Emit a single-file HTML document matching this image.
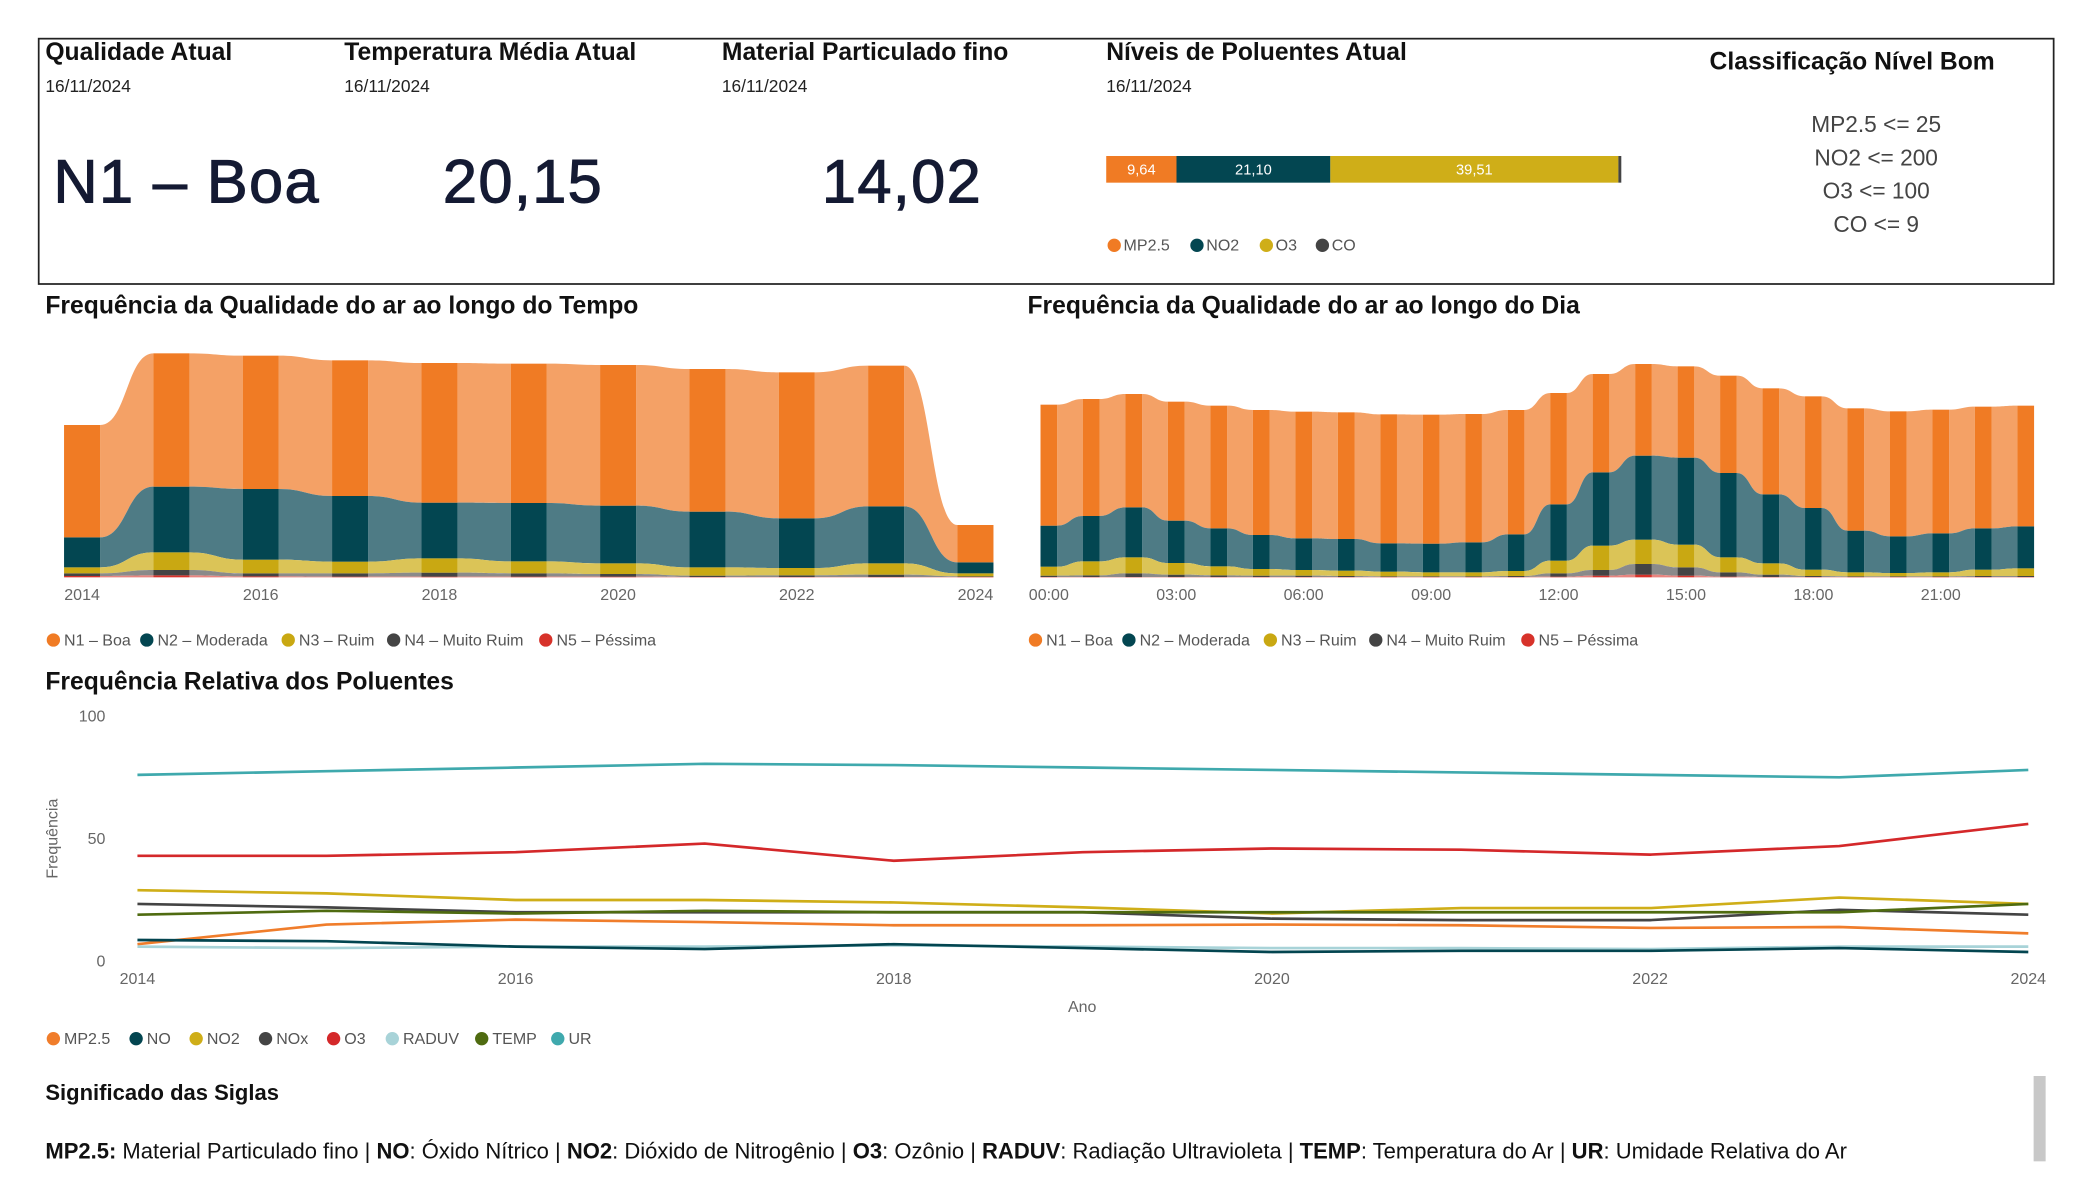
<!DOCTYPE html>
<html><head><meta charset="utf-8"><style>
html,body{margin:0;padding:0;background:#fff;}
svg{display:block;font-family:"Liberation Sans",Arial,sans-serif;}
.h{font-weight:bold;font-size:18.5px;fill:#111;}
.d{font-size:13px;fill:#222;}
.big{font-size:46px;fill:#141a33;stroke:#141a33;stroke-width:0.8;letter-spacing:1px;}
.ax{font-size:12px;fill:#666;}
.lg{font-size:12px;fill:#555;}
.cl{font-size:17px;fill:#444;}
</style></head><body>
<svg id="root" width="2075" height="1200" viewBox="0 0 1555 900" preserveAspectRatio="none">
<rect x="29" y="29" width="1510" height="184" fill="none" stroke="#222" stroke-width="1.3"/>
<g>
<text x="34" y="45" class="h">Qualidade Atual</text><text x="34" y="69" class="d">16/11/2024</text>
<text x="40" y="152" class="big">N1 – Boa</text></g>
<g>
<text x="258" y="45" class="h">Temperatura Média Atual</text><text x="258" y="69" class="d">16/11/2024</text>
<text x="452" y="152" class="big" text-anchor="end">20,15</text></g>
<g>
<text x="541" y="45" class="h">Material Particulado fino</text><text x="541" y="69" class="d">16/11/2024</text>
<text x="736" y="152" class="big" text-anchor="end">14,02</text></g>
<g>
<text x="829" y="45" class="h">Níveis de Poluentes Atual</text><text x="829" y="69" class="d">16/11/2024</text>
<g id="pbar"></g><g id="plg"></g></g>
<g>
<text x="1388" y="52" class="h" text-anchor="middle">Classificação Nível Bom</text>
<text x="1406" y="99" class="cl" text-anchor="middle">MP2.5 &lt;= 25</text>
<text x="1406" y="124" class="cl" text-anchor="middle">NO2 &lt;= 200</text>
<text x="1406" y="149" class="cl" text-anchor="middle">O3 &lt;= 100</text>
<text x="1406" y="174" class="cl" text-anchor="middle">CO &lt;= 9</text></g>
<text x="34" y="235" class="h">Frequência da Qualidade do ar ao longo do Tempo</text>
<text x="770" y="235" class="h">Frequência da Qualidade do ar ao longo do Dia</text>
<g id="c1"></g>
<g id="c2"></g>
<text x="34" y="517" class="h">Frequência Relativa dos Poluentes</text>
<g id="c3"></g>
<text x="34" y="825" class="h" style="font-size:16.5px">Significado das Siglas</text>
<text x="34" y="869" style="font-size:16.5px;fill:#111"><tspan font-weight="bold">MP2.5:</tspan> Material Particulado fino | <tspan font-weight="bold">NO</tspan>: Óxido Nítrico | <tspan font-weight="bold">NO2</tspan>: Dióxido de Nitrogênio | <tspan font-weight="bold">O3</tspan>: Ozônio | <tspan font-weight="bold">RADUV</tspan>: Radiação Ultravioleta | <tspan font-weight="bold">TEMP</tspan>: Temperatura do Ar | <tspan font-weight="bold">UR</tspan>: Umidade Relativa do Ar</text>
<rect x="1524" y="807" width="9" height="64" fill="#c8c8c8"/>
</svg>
<script>
// Current pollutant levels
const polNames=["MP2.5","NO2","O3","CO"];
const polValues=[9.64,21.10,39.51,0.4];
const polLabels=["9,64","21,10","39,51",""];
// Yearly ribbon chart
const years=["2014","2015","2016","2017","2018","2019","2020","2021","2022","2023","2024"];
const yN1=[337,400,400,407,419,418,422,428,438,422,112];
const yN2=[90,197,212,197,167,175,173,167,149,171,33];
const yN3=[18,53,41,35,43,36,32,25,22,34,9];
const yN4=[8,16,9,10,12,10,8,4,5,7,2];
const yN5=[4,6,3,2,2,2,2,1,1,1,1];
// Hourly ribbon chart
const hours=["00:00","01:00","02:00","03:00","04:00","05:00","06:00","07:00","08:00","09:00","10:00","11:00","12:00","13:00","14:00","15:00","16:00","17:00","18:00","19:00","20:00","21:00","22:00","23:00"];
const hN1=[363,351,340,357,368,375,380,380,387,387,385,373,334,295,275,274,292,318,335,367,375,371,365,362];
const hN2=[123,136,150,127,114,102,95,95,85,86,90,110,169,220,252,261,253,207,185,125,110,117,124,126];
const hN3=[27,42,48,35,27,20,17,16,14,12,12,15,38,73,73,68,45,34,19,12,10,12,19,23];
const hN4=[4,5,11,7,5,4,4,3,2,2,2,3,10,17,32,25,13,7,3,2,2,2,3,3];
const hN5=[1,1,1,1,1,1,1,1,1,1,1,1,2,5,8,5,2,1,1,1,1,1,1,1];
const levelNames=["N1 – Boa","N2 – Moderada","N3 – Ruim","N4 – Muito Ruim","N5 – Péssima"];
// Pollutant line chart
const lineYears=[2014,2015,2016,2017,2018,2019,2020,2021,2022,2023,2024];
const xTicks=[2014,2016,2018,2020,2022,2024];
const yTicks=[0,50,100];
const sMP25=[7,15,17,16,14.7,14.7,15,14.7,13.6,14,11.4];
const sNO=[8.7,8.2,6,5,7,5.4,3.8,4.3,4.3,5.4,3.8];
const sNO2=[29,27.7,25,25,24,22,19.5,21.7,21.7,26,23.4];
const sNOx=[23.4,22,20,20,20,20,17.4,16.8,16.8,21,19];
const sO3=[43,43,44.5,48,41,44.5,46,45.5,43.5,47,56];
const sRADUV=[6,5.4,6,6,6.5,6,5.4,5.4,5,6,6];
const sTEMP=[19,20.6,19.5,20.6,20,20,20,20,20,20,23.4];
const sUR=[76,77.5,79,80.5,80,79,78,77,76,75,78];

const NS="http://www.w3.org/2000/svg";
function mk(tag,attrs,parent){const e=document.createElementNS(NS,tag);for(const k in attrs)e.setAttribute(k,attrs[k]);parent.appendChild(e);return e;}
function txt(s,attrs,parent){const e=mk("text",attrs,parent);e.textContent=s;return e;}

(function(){
 const g=document.getElementById("pbar"),lg=document.getElementById("plg");
 const cols=["#f07b24","#034651","#cfae18","#444"];
 const total=polValues.reduce((a,b)=>a+b,0),W=386;let x=829;
 polValues.forEach((v,i)=>{const w=v/total*W;
  const r=mk("rect",{x:x,y:117,width:w,height:20,fill:cols[i]},g);
  
  
  if(polLabels[i]){const t=txt(polLabels[i],{x:x+w/2,y:131,"text-anchor":"middle","font-size":"11",fill:"#fff"},g);
   
   }
  x+=w;});
 const lx=[835,897,949,991];
 polNames.forEach((n,i)=>{const c=mk("circle",{cx:lx[i],cy:184,r:5,fill:cols[i]},lg);
  
  
  const t=txt(n,{x:lx[i]+7,y:188,class:"lg"},lg);
  
  });
})();

const barCols=["#f07b24","#034651","#c9a812","#444444","#d7322a"];
const ribCols=["#f4a166","#4e7b85","#dbc457","#8a8a8a","#e8847f"];
function ribbon(gid,cats,series,x0,step,bw,base,k,labelEvery,legendX){
 const g=document.getElementById(gid);
 const n=cats.length;const cx=i=>x0+i*step;const y=v=>base-v*k;
 const order=[4,3,2,1,0];
 const lo=[],hi=[];
 for(let i=0;i<n;i++){let c=0;lo[i]=[];hi[i]=[];order.forEach(s=>{lo[i][s]=c;c+=series[s][i];hi[i][s]=c;});}
 order.slice().reverse().forEach(s=>{
  for(let i=0;i<n-1;i++){
   const xa=cx(i)+bw/2,xb=cx(i+1)-bw/2,xm=(xa+xb)/2;
   const d=`M${xa},${y(hi[i][s])} C${xm},${y(hi[i][s])} ${xm},${y(hi[i+1][s])} ${xb},${y(hi[i+1][s])} L${xb},${y(lo[i+1][s])} C${xm},${y(lo[i+1][s])} ${xm},${y(lo[i][s])} ${xa},${y(lo[i][s])} Z`;
   const p=mk("path",{d:d,fill:ribCols[s]},g);
   
   
  }
 });
 order.forEach(s=>{
  for(let i=0;i<n;i++){
   const r=mk("rect",{x:cx(i)-bw/2,y:y(hi[i][s]),width:bw,height:Math.max(0,y(lo[i][s])-y(hi[i][s])),fill:barCols[s]},g);
   
   
  }
 });
 for(let i=0;i<n;i+=labelEvery){
  const t=txt(cats[i],{x:cx(i),y:base+17,class:"ax","text-anchor":"middle"},g);
  
  
 }
 const offs=[0,70,176,255,369];
 levelNames.forEach((nm,s)=>{
  const c=mk("circle",{cx:legendX+offs[s]+5,cy:480,r:5,fill:barCols[s]},g);
  
  
  const t=txt(nm,{x:legendX+offs[s]+13,y:484,class:"lg"},g);
  
  
 });
}
ribbon("c1",years,[yN1,yN2,yN3,yN4,yN5],61.5,66.95,27,433,0.25,2,35);
ribbon("c2",hours,[hN1,hN2,hN3,hN4,hN5],786,31.83,12.5,433,0.25,3,771);

(function(){
 const g=document.getElementById("c3");
 const X=v=>103+(v-2014)*(1520-103)/10, Y=v=>721-v*1.84;
 yTicks.forEach(v=>{const t=txt(String(v),{x:79,y:Y(v)+4,class:"ax","text-anchor":"end"},g);
  
  });
 xTicks.forEach(v=>{const t=txt(String(v),{x:X(v),y:738,class:"ax","text-anchor":"middle"},g);
  
  });
 const yt=txt("Frequência",{x:0,y:0,class:"ax",transform:"translate(43,629) rotate(-90)","text-anchor":"middle"},g);
 
 
 const xt=txt("Ano",{x:811,y:759,class:"ax","text-anchor":"middle"},g);
 
 
 const names=["MP2.5","NO","NO2","NOx","O3","RADUV","TEMP","UR"];
 const data=[sMP25,sNO,sNO2,sNOx,sO3,sRADUV,sTEMP,sUR];
 const cols=["#f07d2b","#034550","#cfae18","#444444","#d4282a","#a8d3d8","#4f6b10","#3fa9ad"];
 const drawOrder=[7,4,2,3,6,0,5,1];
 drawOrder.forEach(i=>{
  const pts=lineYears.map((yr,j)=>X(yr)+","+Y(data[i][j])).join(" ");
  const p=mk("polyline",{points:pts,fill:"none",stroke:cols[i],"stroke-width":2,"stroke-linejoin":"round"},g);
  
  
 });
 const lx=[35,97,142,194,245,289,356,413];
 names.forEach((nm,i)=>{
  const c=mk("circle",{cx:lx[i]+5,cy:779,r:5,fill:cols[i]},g);
  
  
  const t=txt(nm,{x:lx[i]+13,y:783,class:"lg"},g);
  
  
 });
})();
</script>
</body></html>
